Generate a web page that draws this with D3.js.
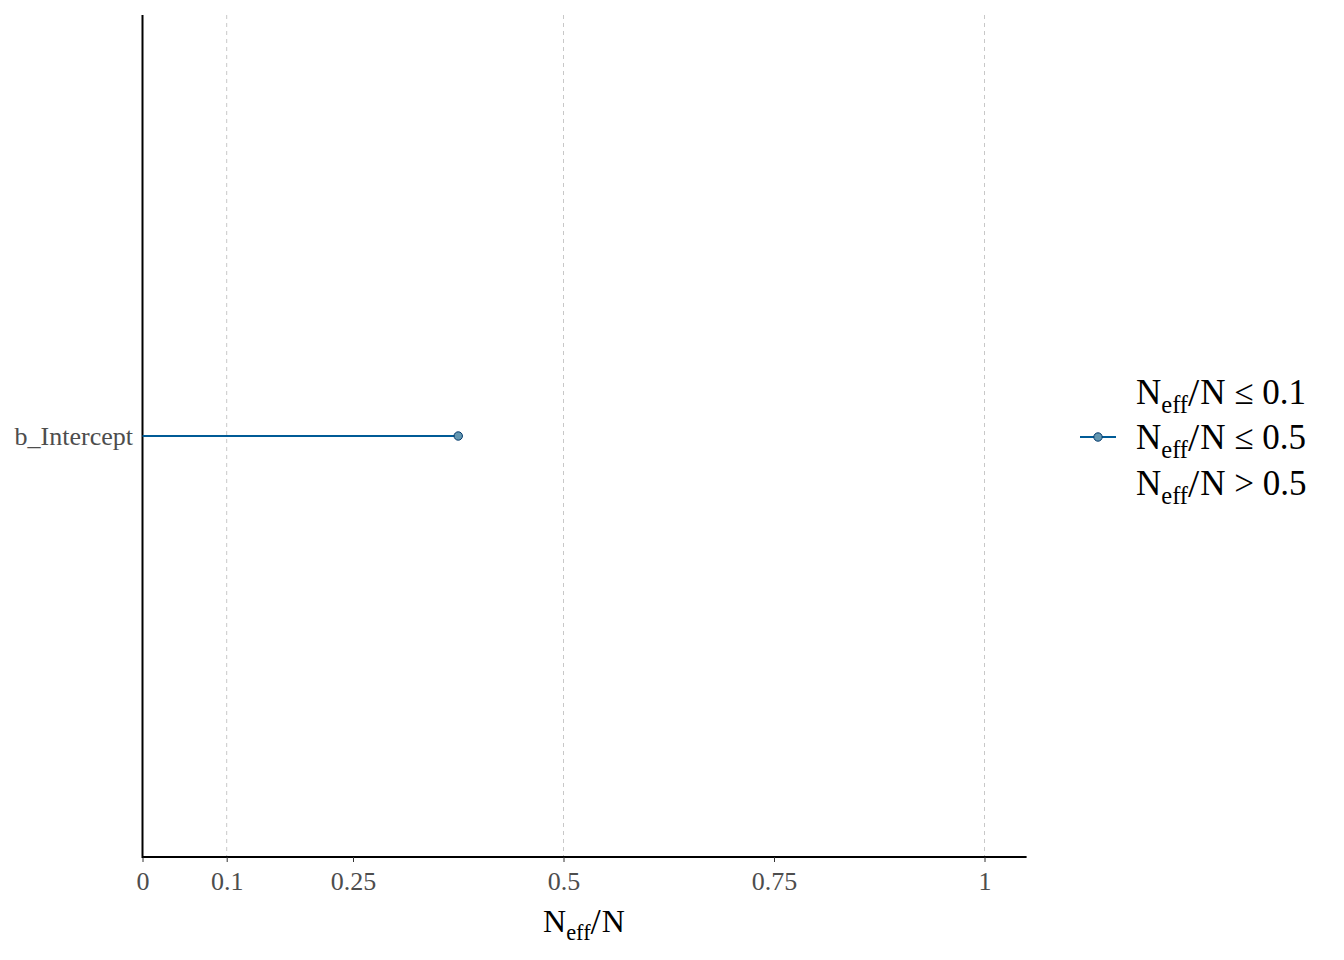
<!DOCTYPE html>
<html><head><meta charset="utf-8">
<script src="https://cdn.jsdelivr.net/npm/d3@7"></script>
<style>body{margin:0;background:#fff;} text{font-family:"Liberation Serif","Times New Roman",serif;}</style>
</head><body><svg id="c" width="1344" height="960"></svg>
<script>
const params = ["b_Intercept"];
const ratios = [0.375];
const tickValues = [0, 0.1, 0.25, 0.5, 0.75, 1];
const gridValues = [0.1, 0.5, 1];
const legendOps = ["≤ 0.1", "≤ 0.5", "> 0.5"];
const legendShown = [false, true, false];

const svg = d3.select("#c");
const x = d3.scaleLinear().domain([0, 1.05]).range([142.5, 1026.6]);
const y = d3.scaleBand().domain(params).range([15, 857]);
const colLine = "#005b96", colFill = "#6497b1", colStroke = "#03396c";

// grid
svg.selectAll(".g").data(gridValues).enter().append("line")
  .attr("x1", d => x(d)).attr("x2", d => x(d)).attr("y1", 15).attr("y2", 857)
  .attr("stroke", "#c8c8c8").attr("stroke-width", 1).attr("stroke-dasharray", "4,4");

// x axis
const xa = svg.append("g").attr("transform", "translate(0,857)")
  .call(d3.axisBottom(x).tickValues(tickValues).tickFormat(d => String(d)).tickSize(5).tickPadding(10));
xa.select(".domain").attr("stroke", "#000").attr("stroke-width", 2).attr("d", `M${x(0)},0H${x(1.05)}`);
xa.selectAll(".tick line").attr("stroke", "#333");
xa.selectAll(".tick text").attr("font-size", 26).attr("fill", "#4d4d4d").attr("font-family", "Liberation Serif");

// y axis
svg.append("line").attr("x1", x(0)).attr("x2", x(0)).attr("y1", 15).attr("y2", 858).attr("stroke", "#000").attr("stroke-width", 2);
svg.selectAll(".yl").data(params).enter().append("text")
  .attr("x", 133).attr("y", d => y(d) + y.bandwidth() / 2).attr("dy", "0.35em")
  .attr("text-anchor", "end").attr("font-size", 26).attr("fill", "#4d4d4d").text(d => d);

// segments and points
svg.selectAll(".seg").data(params).enter().append("line")
  .attr("x1", x(0)).attr("x2", (d, i) => x(ratios[i]))
  .attr("y1", d => y(d) + y.bandwidth() / 2).attr("y2", d => y(d) + y.bandwidth() / 2)
  .attr("stroke", colLine).attr("stroke-width", 2);
svg.selectAll(".pt").data(params).enter().append("circle")
  .attr("cx", (d, i) => x(ratios[i])).attr("cy", d => y(d) + y.bandwidth() / 2).attr("r", 4.2)
  .attr("fill", colFill).attr("stroke", colStroke).attr("stroke-width", 1);

function neffLabel(sel, rest, size) {
  sel.append("tspan").text("N");
  sel.append("tspan").attr("font-size", size * 0.7).attr("dy", size * 0.25).text("eff");
  sel.append("tspan").attr("font-size", size * 1.15).attr("dy", -size * 0.18).text("/");
  sel.append("tspan").attr("font-size", size).attr("dy", -size * 0.07).attr("dx", 1).text("N" + rest);
}

// x title
const xt = svg.append("text").attr("x", 584).attr("y", 932).attr("text-anchor", "middle").attr("font-size", 32).attr("fill", "#000");
neffLabel(xt, "", 32);

// legend
const legY = [392, 437, 483];
legendOps.forEach((op, i) => {
  if (legendShown[i]) {
    svg.append("line").attr("x1", 1080).attr("x2", 1116).attr("y1", legY[i]).attr("y2", legY[i]).attr("stroke", colLine).attr("stroke-width", 2);
    svg.append("circle").attr("cx", 1098).attr("cy", legY[i]).attr("r", 4.2).attr("fill", colFill).attr("stroke", colStroke).attr("stroke-width", 1);
  }
  const t = svg.append("text").attr("x", 1136).attr("y", legY[i] + 12).attr("font-size", 35).attr("fill", "#000");
  neffLabel(t, " " + op, 35);
});
</script></body></html>
